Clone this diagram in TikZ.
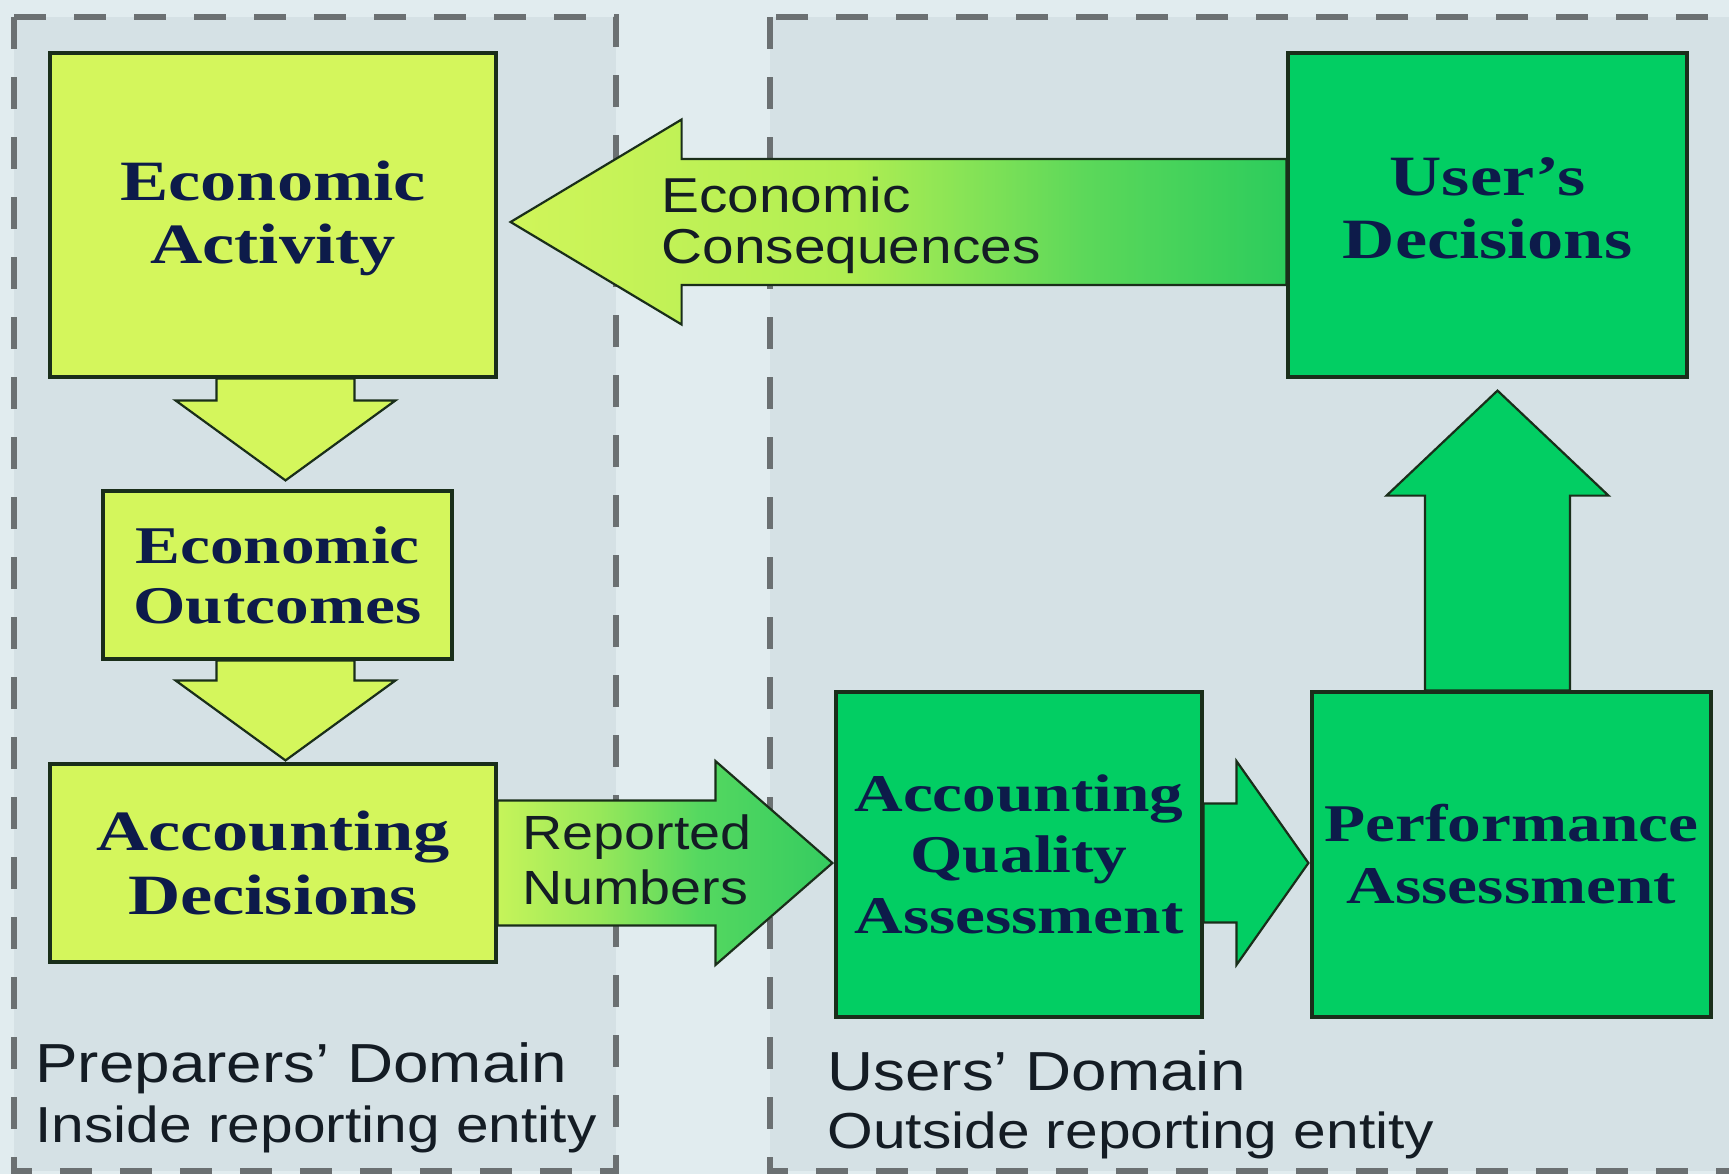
\documentclass[tikz,border=0pt]{standalone}
\usepackage{fontspec}
\usetikzlibrary{calc}
\newfontfamily\boxfont[FakeStretch=1.27]{Liberation Serif}
\newfontfamily\labfont[FakeStretch=1.16]{Liberation Sans}
\definecolor{ylw}{HTML}{D4F65C}
\definecolor{grn}{HTML}{02CE63}
\definecolor{navy}{HTML}{0D1B4A}
\definecolor{edge}{HTML}{1A2E1A}
\definecolor{dashc}{HTML}{6B7072}
\definecolor{bgout}{HTML}{E1ECEF}
\definecolor{bgin}{HTML}{D5E1E5}
\definecolor{labc}{HTML}{141C24}
\definecolor{eca}{HTML}{D0F55A}
\definecolor{ecb}{HTML}{B0EE52}
\definecolor{ecc}{HTML}{5CD85A}
\definecolor{ecd}{HTML}{2CCC5C}
\definecolor{rna}{HTML}{C6F45A}
\definecolor{rnb}{HTML}{98E85A}
\definecolor{rnc}{HTML}{55D860}
\definecolor{rnd}{HTML}{35CC60}
\pgfdeclarehorizontalshading{ecshade}{100bp}{color(0bp)=(eca); color(25bp)=(eca); color(47bp)=(ecb); color(62bp)=(ecc); color(75bp)=(ecd); color(100bp)=(ecd)}
\pgfdeclarehorizontalshading{rnshade}{100bp}{color(0bp)=(rna); color(25bp)=(rna); color(40bp)=(rnb); color(55bp)=(rnc); color(75bp)=(rnd); color(100bp)=(rnd)}
\pgfdeclarelayer{back}
\pgfdeclarelayer{mid}
\pgfsetlayers{back,mid,main}
\tikzset{
  box/.style={draw=edge, line width=1.6pt, inner sep=0pt, align=center, text=navy},
  ybox/.style={box, fill=ylw},
  gbox/.style={box, fill=grn},
  barrow/.style={draw=edge, line width=1.1pt, line join=miter},
  dombox/.style={draw=dashc, line width=2.6pt, dash pattern=on 16pt off 14pt, fill=bgin},
  lab/.style={inner sep=0pt, text=labc, align=left},
  bigser/.style={font=\boxfont\bfseries\fontsize{28.5}{#1}\selectfont},
  midser/.style={font=\boxfont\bfseries\fontsize{26.5}{#1}\selectfont},
}
% #1 options, #2 name, #3 start coordinate, #4 tip coordinate, #5 shaft half width, #6 head half width, #7 head length
\newcommand{\blockarrow}[7]{%
  \coordinate (#2b) at ($(#4)!#7!(#3)$);
  \path[#1] ($(#3)!#5!90:(#4)$) -- ($(#2b)!#5!90:(#4)$) -- ($(#2b)!#6!90:(#4)$) -- (#4)
    -- ($(#2b)!#6!-90:(#4)$) -- ($(#2b)!#5!-90:(#4)$) -- ($(#3)!#5!-90:(#4)$) -- cycle;
}
\begin{document}
\begin{tikzpicture}[x=0.5pt, y=-0.5pt]
\useasboundingbox (0,0) rectangle (1729,1174);
\begin{pgfonlayer}{back}
  \fill[bgout] (0,0) rectangle (1729,1174);
  \path[dombox] (14,17) rectangle (616,1171);
  \path[dombox] (770,17) rectangle (1765,1171);
\end{pgfonlayer}

% boxes
\node[ybox, minimum width=223pt, minimum height=162pt, bigser=31.4pt, text depth=2.4pt] (EA) at (273,215) {Economic\\Activity};
\node[ybox, minimum width=174.5pt, minimum height=84pt, midser=30pt] (EO) at (277.5,575) {Economic\\Outcomes};
\node[ybox, minimum width=223pt, minimum height=99pt, bigser=32pt] (AD) at (273,863) {Accounting\\Decisions};
\node[gbox, minimum width=199.5pt, minimum height=162pt, bigser=31.4pt, text depth=7pt] (UD) at (1487.5,215) {User’s\\Decisions};
\node[gbox, minimum width=183pt, minimum height=162.5pt, midser=30.5pt] (AQA) at (1019,854.5) {Accounting\\Quality\\Assessment};
\node[gbox, minimum width=199.5pt, minimum height=162.5pt, midser=31pt] (PA) at (1511.5,854.5) {Performance\\Assessment};

% arrows
\coordinate (a1S) at ($(EA.south)+(12.5,0)$);
\coordinate (a1E) at ($(EO.north)+(8,-9)$);
\coordinate (a2S) at ($(EO.south)+(8,0)$);
\coordinate (a2E) at ($(AD.north)+(12.5,-2)$);
\coordinate (rnS) at (AD.east);
\coordinate (rnE) at ($(AQA.west)+(-2,8.5)$);
\coordinate (apS) at ($(AQA.east)+(0,8.5)$);
\coordinate (apE) at ($(PA.west)+(-2,8.5)$);
\coordinate (upS) at ($(PA.north)+(-14,0)$);
\coordinate (upE) at ($(UD.south)+(10,12)$);
\coordinate (ecS) at ($(UD.west)+(0,7)$);
\coordinate (ecE) at ($(EA.east)+(13,7)$);
\begin{pgfonlayer}{mid}
  \blockarrow{barrow, fill=ylw}{a1}{a1S}{a1E}{34.5pt}{55pt}{40pt}
  \blockarrow{barrow, fill=ylw}{a2}{a2S}{a2E}{34.5pt}{55pt}{40pt}
  \blockarrow{barrow, shade, shading=rnshade}{rn}{rnS}{rnE}{31.25pt}{51pt}{58.5pt}
  \blockarrow{barrow, fill=grn}{ap}{apS}{apE}{29.75pt}{51pt}{36pt}
  \blockarrow{barrow, fill=grn}{up}{upS}{upE}{36.25pt}{55.5pt}{52.5pt}
  \blockarrow{barrow, shade, shading=ecshade}{ec}{ecS}{ecE}{31.5pt}{51.25pt}{85.5pt}
\end{pgfonlayer}

% labels
\node[lab, anchor=west, font=\labfont\fontsize{24.5}{25.5}\selectfont] (ect) at (661,225) {Economic\\Consequences};
\node[lab, anchor=west, font=\labfont\fontsize{24}{27.5}\selectfont] (rnt) at (522,860) {Reported\\Numbers};
\node[lab, anchor=base west, font=\labfont\fontsize{27.5}{30}\selectfont] (pd1) at (35,1082) {Preparers’ Domain};
\node[lab, anchor=base west, font=\labfont\fontsize{25.3}{30}\selectfont] (pd2) at (35,1142) {Inside reporting entity};
\node[lab, anchor=base west, font=\labfont\fontsize{27.5}{30}\selectfont] (ud1) at (827,1090) {Users’ Domain};
\node[lab, anchor=base west, font=\labfont\fontsize{25.3}{30}\selectfont] (ud2) at (827,1148) {Outside reporting entity};
\end{tikzpicture}
\end{document}
